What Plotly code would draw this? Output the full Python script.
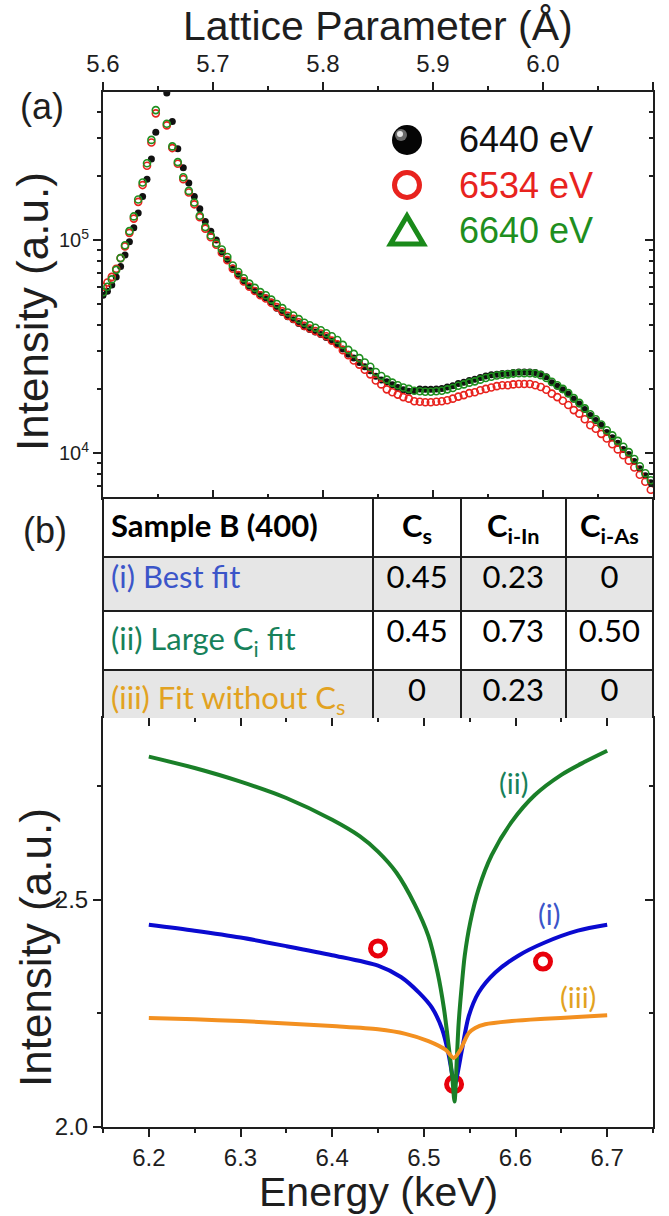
import numpy as np
import plotly.graph_objects as go

W, H = 669, 1216
FONT = "Liberation Sans, Arial, sans-serif"
TFONT = "Lato, Open Sans, sans-serif"
INK = "#1e1e1e"

# ---------------- (a) diffraction profiles vs lattice parameter ----------------
lattice_rise = [5.600, 5.604, 5.608, 5.612, 5.616, 5.620, 5.624, 5.628, 5.632,
                5.636, 5.640, 5.644, 5.648]
lattice_fall = [round(5.658 + 0.005 * k, 3) for k in range(89)]
lattice_a = lattice_rise + lattice_fall

int_6440 = [
    5.50e4, 5.75e4, 6.15e4, 6.70e4, 7.50e4, 8.50e4, 9.80e4, 1.14e5, 1.34e5, 1.60e5, 1.93e5, 2.40e5, 3.20e5,
    4.90e5, 3.60e5, 2.68e5, 2.18e5, 1.85e5, 1.60e5, 1.40e5, 1.22e5, 1.10e5, 1.00e5,
    8.78e4, 8.10e4, 7.38e4, 6.89e4, 6.43e4, 6.07e4, 5.80e4, 5.54e4, 5.35e4, 5.11e4,
    4.78e4, 4.57e4, 4.36e4, 4.22e4, 4.06e4, 3.91e4, 3.80e4, 3.70e4, 3.60e4, 3.49e4,
    3.37e4, 3.24e4, 3.08e4, 2.91e4, 2.79e4, 2.66e4, 2.54e4, 2.43e4, 2.29e4, 2.20e4,
    2.16e4, 2.09e4, 2.03e4, 1.98e4, 1.95e4, 1.96e4, 2.00e4, 1.99e4, 1.99e4, 2.00e4,
    2.01e4, 2.04e4, 2.07e4, 2.12e4, 2.15e4, 2.19e4, 2.22e4, 2.26e4, 2.30e4, 2.33e4,
    2.34e4, 2.36e4, 2.37e4, 2.39e4, 2.40e4, 2.40e4, 2.40e4, 2.39e4, 2.35e4, 2.28e4,
    2.14e4, 2.06e4, 1.98e4, 1.89e4, 1.79e4, 1.70e4, 1.60e4, 1.50e4, 1.42e4, 1.35e4,
    1.25e4, 1.18e4, 1.11e4, 1.04e4, 9.83e3, 9.13e3, 8.44e3, 7.82e3, 7.25e3,
]
int_6534 = [
    6.03e4, 6.32e4, 6.71e4, 7.32e4, 8.22e4, 9.33e4, 1.08e5, 1.26e5, 1.51e5, 1.81e5, 2.23e5, 2.87e5, 3.93e5,
    3.45e5, 2.70e5, 2.28e5, 1.93e5, 1.67e5, 1.47e5, 1.28e5, 1.13e5, 1.03e5, 9.49e4,
    8.71e4, 8.04e4, 7.33e4, 6.84e4, 6.39e4, 6.03e4, 5.76e4, 5.50e4, 5.31e4, 5.07e4,
    4.84e4, 4.63e4, 4.41e4, 4.27e4, 4.11e4, 3.95e4, 3.84e4, 3.74e4, 3.64e4, 3.53e4,
    3.37e4, 3.24e4, 3.04e4, 2.88e4, 2.72e4, 2.60e4, 2.46e4, 2.34e4, 2.19e4, 2.10e4,
    1.99e4, 1.93e4, 1.88e4, 1.83e4, 1.80e4, 1.75e4, 1.74e4, 1.73e4, 1.73e4, 1.74e4,
    1.75e4, 1.77e4, 1.80e4, 1.84e4, 1.87e4, 1.91e4, 1.93e4, 1.97e4, 2.00e4, 2.03e4,
    2.06e4, 2.08e4, 2.08e4, 2.10e4, 2.11e4, 2.11e4, 2.11e4, 2.08e4, 2.04e4, 1.98e4,
    1.90e4, 1.83e4, 1.76e4, 1.68e4, 1.59e4, 1.53e4, 1.44e4, 1.35e4, 1.30e4, 1.23e4,
    1.17e4, 1.10e4, 1.04e4, 9.76e3, 9.21e3, 8.55e3, 7.91e3, 7.33e3, 6.72e3,
]
int_6640 = [
    5.69e4, 6.03e4, 6.53e4, 7.24e4, 8.22e4, 9.44e4, 1.10e5, 1.29e5, 1.55e5, 1.86e5, 2.29e5, 2.95e5, 4.07e5,
    3.51e5, 2.75e5, 2.32e5, 1.97e5, 1.70e5, 1.50e5, 1.30e5, 1.15e5, 1.05e5, 9.66e4,
    9.02e4, 8.32e4, 7.59e4, 7.08e4, 6.61e4, 6.24e4, 5.96e4, 5.69e4, 5.50e4, 5.25e4,
    5.01e4, 4.79e4, 4.57e4, 4.42e4, 4.25e4, 4.09e4, 3.98e4, 3.87e4, 3.77e4, 3.65e4,
    3.53e4, 3.39e4, 3.22e4, 3.05e4, 2.92e4, 2.79e4, 2.66e4, 2.54e4, 2.40e4, 2.30e4,
    2.21e4, 2.14e4, 2.08e4, 2.03e4, 2.00e4, 1.96e4, 1.95e4, 1.94e4, 1.94e4, 1.95e4,
    1.96e4, 1.99e4, 2.02e4, 2.07e4, 2.10e4, 2.14e4, 2.17e4, 2.21e4, 2.25e4, 2.28e4,
    2.31e4, 2.33e4, 2.34e4, 2.36e4, 2.37e4, 2.37e4, 2.37e4, 2.36e4, 2.32e4, 2.25e4,
    2.16e4, 2.08e4, 2.00e4, 1.91e4, 1.81e4, 1.72e4, 1.62e4, 1.52e4, 1.44e4, 1.36e4,
    1.28e4, 1.21e4, 1.14e4, 1.07e4, 1.01e4, 9.38e3, 8.67e3, 8.04e3, 7.45e3,
]
legend_labels = ["6440 eV", "6534 eV", "6640 eV"]
log_tickvals = [1e4, 1e5]
log_ticktext = ["10<sup>4</sup>", "10<sup>5</sup>"]

# ---------------- (b) fit parameters ----------------
table_header = ["<b>Sample B (400)</b>", "<b>C<sub>s</sub></b>",
                "<b>C<sub>i-In</sub></b>", "<b>C<sub>i-As</sub></b>"]
fit_names = ["(i) Best fit", "(ii) Large C<sub>i</sub> fit", "(iii) Fit without C<sub>s</sub>"]
c_s = ["0.45", "0.45", "0"]
c_i_in = ["0.23", "0.73", "0.23"]
c_i_as = ["0", "0.50", "0"]

# ---------------- (c) energy dependence ----------------
energy_i = [6.200, 6.250, 6.300, 6.350, 6.400, 6.450, 6.475, 6.495, 6.509, 6.520, 6.527,
            6.5315, 6.534, 6.537, 6.5416, 6.549, 6.5598, 6.578, 6.603, 6.632, 6.668, 6.700]
fit_i = [2.445, 2.432, 2.417, 2.398, 2.378, 2.355, 2.330, 2.295, 2.262, 2.215, 2.160,
         2.110, 2.095, 2.120, 2.170, 2.244, 2.296, 2.340, 2.377, 2.406, 2.432, 2.445]

energy_ii = [6.200, 6.250, 6.300, 6.350, 6.400, 6.430, 6.450, 6.470, 6.490, 6.505, 6.515,
             6.522, 6.527, 6.531, 6.5335, 6.536, 6.538, 6.541, 6.5446, 6.5507, 6.5598,
             6.574, 6.596, 6.6214, 6.650, 6.675, 6.700]
fit_ii = [2.815, 2.790, 2.760, 2.724, 2.676, 2.640, 2.606, 2.560, 2.490, 2.420, 2.340,
          2.260, 2.180, 2.110, 2.056, 2.150, 2.229, 2.303, 2.377, 2.451, 2.524,
          2.598, 2.672, 2.731, 2.775, 2.803, 2.828]

energy_iii = [6.200, 6.250, 6.300, 6.350, 6.400, 6.450, 6.480, 6.505, 6.5236, 6.5326,
              6.540, 6.545, 6.549, 6.556, 6.567, 6.596, 6.632, 6.667, 6.700]
fit_iii = [2.240, 2.237, 2.233, 2.228, 2.222, 2.215, 2.205, 2.189, 2.170, 2.152,
           2.170, 2.192, 2.207, 2.218, 2.226, 2.233, 2.238, 2.242, 2.246]

energy_exp = [6.450, 6.533, 6.630]
int_exp = [2.393, 2.094, 2.364]


def px(x):
    return x / W


def py(y):
    return 1 - y / H


X0, X1 = px(103), px(653)
A_TOP, A_BOT = py(92), py(498)
C_TOP, C_BOT = py(718), py(1127)

BLACK, RED, GREEN = "#111111", "#e8231e", "#1f8f1f"
C_I, C_II, C_III = "#0a0ad0", "#1a7f28", "#f39020"
L_I, L_II, L_III = "#3b55c9", "#17815a", "#e2a221"

fig = go.Figure()

# ---- panel (a) scans ----
fig.add_trace(go.Scatter(x=lattice_a, y=int_6440, mode="markers", xaxis="x", yaxis="y",
                         marker=dict(symbol="circle", size=7, color=BLACK), showlegend=False))
fig.add_trace(go.Scatter(x=lattice_a, y=int_6534, mode="markers", xaxis="x", yaxis="y",
                         marker=dict(symbol="circle-open", size=7, color=RED, line=dict(width=1.6)),
                         showlegend=False))
fig.add_trace(go.Scatter(x=lattice_a, y=int_6640, mode="markers", xaxis="x", yaxis="y",
                         marker=dict(symbol="circle-open", size=7, color=GREEN, line=dict(width=1.6)),
                         showlegend=False))
# carrier for the mirrored frame axes of panel (a)
fig.add_trace(go.Scatter(x=[None], y=[None], xaxis="x3", yaxis="y3", showlegend=False, hoverinfo="skip"))

# ---- panel (b) table ----
row_fill = ["#e6e6e6", "#ffffff", "#e6e6e6"]
fig.add_trace(go.Table(
    domain=dict(x=[X0, X1], y=[C_TOP, A_BOT]),
    columnwidth=[270, 87, 105, 87],
    header=dict(values=table_header, height=54.5, fill_color="white",
                line=dict(color=INK, width=2),
                align=["left", "center", "center", "center"],
                font=dict(family=TFONT, size=31, color="black")),
    cells=dict(values=[fit_names, c_s, c_i_in, c_i_as], height=54.5,
               fill_color=[row_fill] * 4,
               line=dict(color=INK, width=2),
               align=["left", "center", "center", "center"],
               font=dict(family=TFONT, size=31,
                         color=[[L_I, L_II, L_III], "black", "black", "black"])),
))

# ---- panel (c) fits and data ----
fig.add_trace(go.Scatter(x=energy_exp, y=int_exp, mode="markers", xaxis="x2", yaxis="y2",
                         marker=dict(symbol="circle-open", size=15, color="#e8000b", line=dict(width=5)),
                         showlegend=False))
fig.add_trace(go.Scatter(x=energy_i, y=fit_i, mode="lines", xaxis="x2", yaxis="y2",
                         line=dict(color=C_I, width=4, shape="spline", smoothing=0.8), showlegend=False))
fig.add_trace(go.Scatter(x=energy_ii, y=fit_ii, mode="lines", xaxis="x2", yaxis="y2",
                         line=dict(color=C_II, width=4, shape="spline", smoothing=0.8), showlegend=False))
fig.add_trace(go.Scatter(x=energy_iii, y=fit_iii, mode="lines", xaxis="x2", yaxis="y2",
                         line=dict(color=C_III, width=4, shape="spline", smoothing=0.8), showlegend=False))
fig.add_trace(go.Scatter(x=[None], y=[None], xaxis="x4", yaxis="y4", showlegend=False, hoverinfo="skip"))

AX = dict(showline=True, linewidth=2, linecolor=INK, showgrid=False, zeroline=False,
          tickcolor=INK, tickwidth=1.5, ticklen=8, automargin=False)
TICKFONT = dict(family=FONT, size=24, color=INK)


def minor(direction, **kw):
    return dict(ticks=direction, ticklen=4, tickwidth=1.5, tickcolor=INK, **kw)


log_range = [np.log10(6150), np.log10(4.95e5)]
log_minor = [k * 10 ** e for e in (3, 4, 5) for k in range(2, 10)]

fig.update_layout(
    template="none",
    width=W, height=H, margin=dict(l=0, r=0, t=0, b=0, pad=0, autoexpand=False),
    paper_bgcolor="white", plot_bgcolor="white",
    font=dict(family=FONT, color=INK),
    # panel (a)
    xaxis=dict(**AX, domain=[X0, X1], anchor="y", side="top", range=[5.6, 6.1],
               tick0=5.6, dtick=0.1, tickformat=".1f", ticks="outside", tickfont=TICKFONT,
               ticklabelstandoff=0, minor=minor("outside", tick0=5.6, dtick=0.05)),
    yaxis=dict(**AX, domain=[A_BOT, A_TOP], anchor="x", type="log", range=log_range,
               tickmode="array", tickvals=log_tickvals, ticktext=log_ticktext, ticks="outside",
               tickfont=dict(family=FONT, size=20, color=INK),
               minor=minor("outside", tickmode="array", tickvals=log_minor)),
    xaxis3=dict(**AX, overlaying="x", anchor="y", side="bottom", range=[5.6, 6.1],
                tick0=5.6, dtick=0.1, ticks="inside", showticklabels=False,
                minor=minor("inside", tick0=5.6, dtick=0.05)),
    yaxis3=dict(**AX, overlaying="y", anchor="x", side="right", type="log", range=log_range,
                tickmode="array", tickvals=log_tickvals, ticks="inside", showticklabels=False,
                minor=minor("inside", tickmode="array", tickvals=log_minor)),
    # panel (c)
    xaxis2=dict(**AX, domain=[X0, X1], anchor="y2", side="bottom", range=[6.15, 6.75],
                tick0=6.2, dtick=0.1, tickformat=".1f", ticks="outside", tickfont=TICKFONT,
                ticklabelstandoff=0, minor=minor("outside", tick0=6.15, dtick=0.05)),
    yaxis2=dict(**AX, domain=[C_BOT, C_TOP], anchor="x2", range=[2.0, 2.9],
                tick0=2.0, dtick=0.5, tickformat=".1f", ticks="outside", tickfont=TICKFONT,
                minor=minor("outside", tick0=2.0, dtick=0.25)),
    xaxis4=dict(**AX, overlaying="x2", anchor="y2", side="top", range=[6.15, 6.75],
                tick0=6.2, dtick=0.1, ticks="inside", showticklabels=False,
                minor=minor("inside", tick0=6.15, dtick=0.05)),
    yaxis4=dict(**AX, overlaying="y2", anchor="x2", side="right", range=[2.0, 2.9],
                tick0=2.0, dtick=0.5, ticks="inside", showticklabels=False,
                minor=minor("inside", tick0=2.0, dtick=0.25)),
)


def paper_note(text, x, y, size, angle=0, color=INK, family=FONT, xanchor="center"):
    fig.add_annotation(text=text, x=px(x), y=py(y), xref="paper", yref="paper",
                       showarrow=False, textangle=angle, xanchor=xanchor, yanchor="middle",
                       font=dict(family=family, size=size, color=color))


paper_note("Lattice Parameter (Å)", 378, 26, 41)
paper_note("(a)", 42, 106, 36)
paper_note("(b)", 45, 530, 36)
paper_note("Intensity (a.u.)", 33, 312, 44, angle=-90)
paper_note("Intensity (a.u.)", 35, 948, 44, angle=-90)
paper_note("Energy (keV)", 378, 1192, 41)

# legend of panel (a)
leg_colors = [BLACK, RED, GREEN]
for label, col, yrow in zip(legend_labels, leg_colors, [140, 185, 230]):
    paper_note(label, 457, yrow, 36, color=col, xanchor="left")


def circle(cx, cy, r, **kw):
    fig.add_shape(type="circle", xref="paper", yref="paper",
                  x0=px(cx - r), x1=px(cx + r), y0=py(cy + r), y1=py(cy - r), **kw)


circle(407, 140, 15, fillcolor="#050505", line=dict(width=0))
circle(401, 135, 6, fillcolor="#6a6a6a", line=dict(width=0))
circle(400, 134, 3, fillcolor="#e8e8e8", line=dict(width=0))
circle(407, 185, 12.5, fillcolor="rgba(0,0,0,0)", line=dict(color=RED, width=5))
tri = [(407, 216), (423.5, 244), (390.5, 244)]
fig.add_shape(type="path", xref="paper", yref="paper",
              path="M " + " L ".join(f"{px(a):.5f},{py(b):.5f}" for a, b in tri) + " Z",
              line=dict(color="#1a8a1a", width=5), fillcolor="rgba(0,0,0,0)")

# curve labels in panel (c)
for text, xe, ye, col in [("(ii)", 6.598, 2.757, L_II), ("(i)", 6.636, 2.469, L_I),
                          ("(iii)", 6.668, 2.288, L_III)]:
    fig.add_annotation(text=text, x=xe, y=ye, xref="x2", yref="y2", showarrow=False,
                       font=dict(family=TFONT, size=29, color=col))

fig.write_html("out.html")
